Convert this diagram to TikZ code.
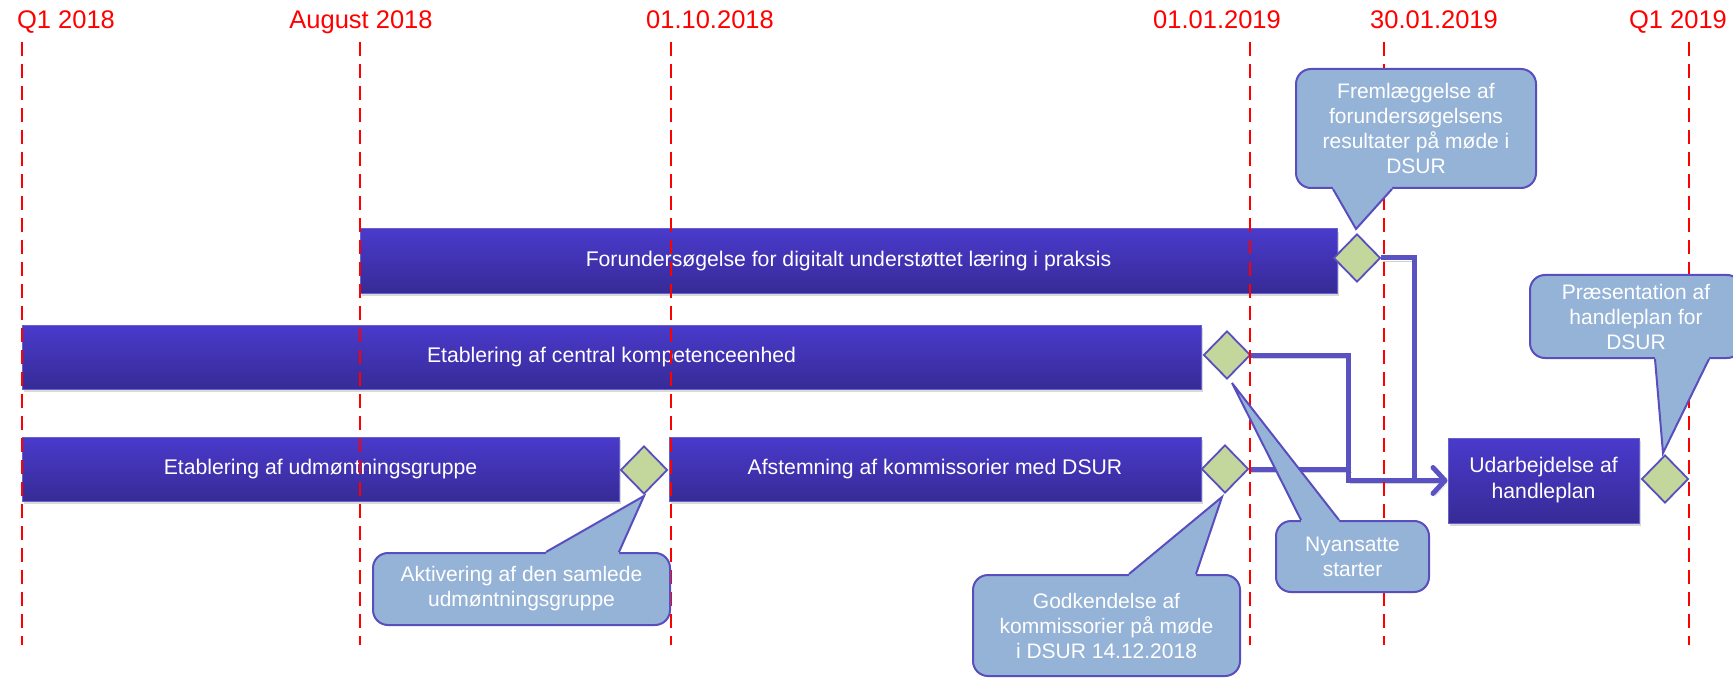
\documentclass[tikz,border=0pt]{standalone}
\usepackage{fontspec}
\setmainfont{Liberation Sans}
\usetikzlibrary{shapes.geometric,shadows,arrows.meta,calc}

\definecolor{datered}{RGB}{255,0,0}
\definecolor{bartop}{RGB}{74,58,204}
\definecolor{barbot}{RGB}{55,43,150}
\definecolor{barline}{RGB}{104,96,206}
\definecolor{msfill}{RGB}{195,214,155}
\definecolor{edgecol}{RGB}{88,78,190}
\definecolor{callfill}{RGB}{149,179,215}
\definecolor{linkcol}{RGB}{90,82,194}

% pointer of a callout: two base points, the tip, and a shift into the box
\newcommand{\calltail}[4]{%
  \fill[callfill] ([yshift=#4]#1) -- (#1) -- (#3) -- (#2) -- ([yshift=#4]#2) -- cycle;
  \draw[calledge] (#1) -- (#3) -- (#2);
}

\begin{document}
\begin{tikzpicture}[x=1pt,y=-1pt,
  datelbl/.style={text=datered,font=\fontsize{25.5}{30}\selectfont,anchor=base,inner sep=0pt},
  dateline/.style={draw=datered,line width=2.8pt,dash pattern=on 14pt off 8pt},
  bar/.style={rectangle,draw=barline,line width=1pt,top color=bartop,bottom color=barbot,
    text=white,font=\fontsize{21.2}{26}\selectfont,align=center,inner sep=0pt,
    drop shadow={shadow xshift=2pt,shadow yshift=-3pt,opacity=0.3}},
  ms/.style={diamond,draw=edgecol,line width=1.8pt,fill=msfill,inner sep=0pt,
    minimum width=47pt,minimum height=48pt},
  callbox/.style={rectangle,rounded corners=15pt,draw=edgecol,line width=2pt,fill=callfill,
    text=white,font=\fontsize{21}{25}\selectfont,align=center,inner sep=0pt},
  calledge/.style={draw=edgecol,line width=2pt,line join=miter},
  link/.style={draw=linkcol,line width=5pt,
    preaction={draw=black,opacity=0.18,transform canvas={xshift=2pt,yshift=-3pt}}},
  linkarrow/.style={link,-{Straight Barb[length=12pt,width=26pt,line width=5pt,round]}}
]
\useasboundingbox (0,0) rectangle (1733,679);
\clip (0,0) rectangle (1733,679);

% activity bars
\node[bar,minimum width=977pt,minimum height=64pt] (b1) at (848.5,261) {Forundersøgelse for digitalt understøttet læring i praksis};
\node[bar,minimum width=1179pt,minimum height=64pt] (b2) at (611.5,357) {Etablering af central kompetenceenhed};
\node[bar,minimum width=597pt,minimum height=64pt] (b3) at (320.5,469) {Etablering af udmøntningsgruppe};
\node[bar,minimum width=532pt,minimum height=64pt] (b4) at (935,469) {Afstemning af kommissorier med DSUR};
\node[bar,minimum width=191pt,minimum height=85pt] (b5) at (1543.5,480.5) {Udarbejdelse af\\handleplan};

% milestones
\node[ms] (d1) at (1357,258) {};
\node[ms] (d2) at (1227,355) {};
\node[ms] (d3) at (644,470) {};
\node[ms] (d4) at (1225,469) {};
\node[ms] (d5) at (1665,479) {};

% dependency links
\coordinate (k1) at (1414,258);
\coordinate (k1e) at (1414,480);
\coordinate (k2) at (1348,355);
\coordinate (k4) at (1350,469);
\draw[link] (d1.east) -- (k1) -- (k1e);
\draw[link] (d4.east) -- (k4);
\draw[linkarrow] (d2.east) -- (k2) |- (b5.west);

% date markers
\coordinate (t1) at (22,42);   \coordinate (u1) at (22,645);
\coordinate (t2) at (360,42);  \coordinate (u2) at (360,645);
\coordinate (t3) at (671,42);  \coordinate (u3) at (671,645);
\coordinate (t4) at (1250,42); \coordinate (u4) at (1250,645);
\coordinate (t5) at (1384,42); \coordinate (u5) at (1384,645);
\coordinate (t6) at (1689,42); \coordinate (u6) at (1689,645);
\foreach \i in {1,...,6} { \draw[dateline] (t\i) -- (u\i); }

\node[datelbl] (l1) at (66,29) {Q1 2018};
\node[datelbl] (l2) at (361,29) {August 2018};
\node[datelbl] (l3) at (710,29) {01.10.2018};
\node[datelbl] (l4) at (1217,29) {01.01.2019};
\node[datelbl] (l5) at (1434,29) {30.01.2019};
\node[datelbl] (l6) at (1678,29) {Q1 2019};

% callouts
\node[callbox,minimum width=240pt,minimum height=119pt] (c1) at (1416,128.5)
  {Fremlæggelse af\\forundersøgelsens\\resultater på møde i\\DSUR};
\coordinate (c1a) at ([xshift=38pt]c1.south west);
\coordinate (c1b) at ([xshift=97pt]c1.south west);
\coordinate (c1t) at (1356,229);
\calltail{c1a}{c1b}{c1t}{3pt}

\node[callbox,minimum width=212pt,minimum height=83pt] (c2) at (1636,316.5)
  {Præsentation af\\handleplan for\\DSUR};
\coordinate (c2a) at ([xshift=126pt]c2.south west);
\coordinate (c2b) at ([xshift=180pt]c2.south west);
\coordinate (c2t) at (1663,453);
\calltail{c2a}{c2b}{c2t}{3pt}

\node[callbox,minimum width=297pt,minimum height=72pt] (c3) at (521.5,589)
  {Aktivering af den samlede\\udmøntningsgruppe};
\coordinate (c3a) at ([xshift=174pt]c3.north west);
\coordinate (c3b) at ([xshift=247pt]c3.north west);
\coordinate (c3t) at (644,496);
\calltail{c3a}{c3b}{c3t}{-3pt}

\node[callbox,minimum width=267pt,minimum height=101pt] (c4) at (1106.5,625.5)
  {Godkendelse af\\kommissorier på møde\\i DSUR 14.12.2018};
\coordinate (c4a) at ([xshift=157pt]c4.north west);
\coordinate (c4b) at ([xshift=224pt]c4.north west);
\coordinate (c4t) at (1222,497);
\calltail{c4a}{c4b}{c4t}{-3pt}

\node[callbox,minimum width=153pt,minimum height=71pt] (c5) at (1352.5,556.5)
  {Nyansatte\\starter};
\coordinate (c5a) at ([xshift=26pt]c5.north west);
\coordinate (c5b) at ([xshift=64pt]c5.north west);
\coordinate (c5t) at (1232,383);
\calltail{c5a}{c5b}{c5t}{-3pt}
\end{tikzpicture}
\end{document}
